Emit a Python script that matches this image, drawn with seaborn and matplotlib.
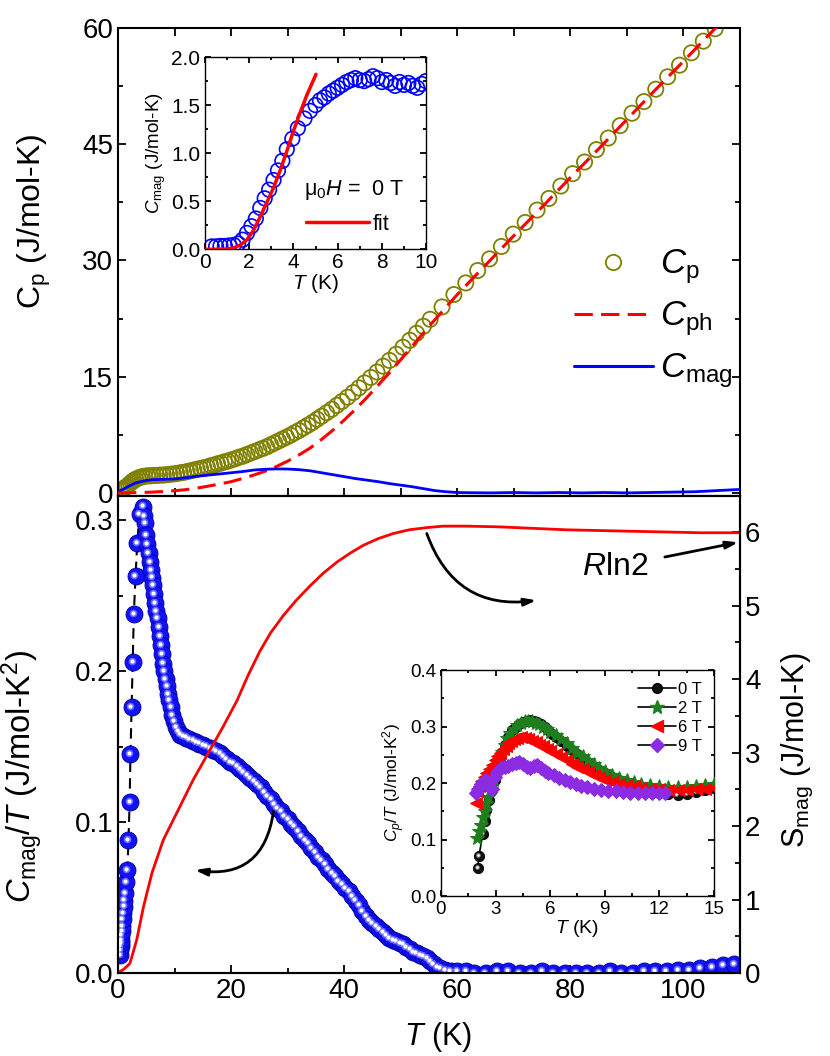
import matplotlib
matplotlib.use('Agg')
import matplotlib.pyplot as plt
import matplotlib.transforms as mtransforms
from matplotlib.lines import Line2D
from matplotlib.ticker import MultipleLocator, FormatStrFormatter
import seaborn as sns

# ---------------- data ----------------
# top panel: Cp, Cph, Cmag vs T
cp_T = [0.4, 0.7, 1.0, 1.3, 1.6, 1.9, 2.2, 2.5, 2.8, 3.1, 3.5, 3.9, 4.3, 4.7, 5.2, 5.7,
        6.2, 6.8, 7.4, 8.0, 8.6, 9.2, 9.8, 10.4, 11.0, 11.6, 12.2, 12.8, 13.4, 14.0, 14.6,
        15.2, 15.8, 16.4, 17.0, 17.6, 18.2, 18.8, 19.4, 20.0, 20.7, 21.4, 22.1, 22.8, 23.5,
        24.2, 24.9, 25.6, 26.3, 27.0, 27.7, 28.4, 29.1, 29.8, 30.5, 31.2, 32.0, 32.8, 33.6,
        34.4, 35.2, 36.0, 36.9, 37.8, 38.7, 39.6, 40.6, 41.6, 42.6, 43.6, 44.7, 45.8, 46.9,
        48.0, 49.2, 50.4, 51.6, 52.8, 54.0, 55.2, 57.3, 59.4, 61.5, 63.6, 65.7, 67.8, 69.9,
        72.0, 74.1, 76.2, 78.3, 80.4, 82.5, 84.6, 86.7, 88.8, 90.9, 93.0, 95.1, 97.2, 99.3,
        101.4, 103.5, 105.6, 107.7, 109.8]
cp_val = [0.35, 0.45, 0.55, 0.7, 0.85, 1.05, 1.25, 1.45, 1.6, 1.75, 1.9, 2.0, 2.1, 2.15, 2.2, 2.2,
          2.25, 2.25, 2.3, 2.3, 2.35, 2.4, 2.45, 2.5, 2.6, 2.65, 2.75, 2.85, 2.95, 3.05, 3.15,
          3.25, 3.35, 3.5, 3.6, 3.75, 3.85, 4.0, 4.1, 4.25, 4.4, 4.6, 4.75, 4.95, 5.15,
          5.35, 5.55, 5.75, 5.95, 6.2, 6.45, 6.7, 6.95, 7.2, 7.45, 7.75, 8.05, 8.4, 8.75,
          9.1, 9.5, 9.9, 10.35, 10.8, 11.3, 11.8, 12.35, 12.95, 13.55, 14.2, 14.9, 15.6, 16.35,
          17.1, 17.9, 18.8, 19.7, 20.6, 21.5, 22.4, 24.0, 25.6, 27.1, 28.7, 30.2, 31.8, 33.4,
          34.9, 36.5, 38.0, 39.6, 41.2, 42.7, 44.3, 45.8, 47.4, 49.0, 50.5, 52.1, 53.7, 55.2,
          56.8, 58.3, 59.9, 61.5, 63.0]

cph_T = [0, 2, 4, 6, 8, 10, 12, 14, 16, 18, 20, 22, 24, 26, 28, 30, 32, 34, 36, 38, 40,
         42, 44, 46, 48, 50, 52, 55, 60, 65, 70, 75, 80, 85, 90, 95, 100, 105, 110]
cph_val = [0, 0.02, 0.05, 0.1, 0.18, 0.28, 0.42, 0.62, 0.88, 1.15, 1.45, 1.85, 2.3, 2.8,
           3.4, 4.1, 4.9, 5.8, 6.9, 8.1, 9.4, 10.8, 12.3, 13.9, 15.5, 17.2, 18.9, 21.5,
           25.6, 29.4, 33.2, 36.9, 40.7, 44.4, 48.2, 52.0, 55.7, 59.5, 63.2]

cmag_T = [0.4, 1, 2, 3, 4, 5, 6, 8, 10, 12, 14, 16, 18, 20, 22, 24, 26, 28, 30, 32, 34, 36,
          38, 40, 42, 44, 46, 48, 50, 52, 54, 56, 58, 60, 63, 66, 70, 74, 78, 82, 86, 90,
          94, 98, 102, 106, 110]
cmag_val = [0.3, 0.5, 0.9, 1.25, 1.45, 1.6, 1.7, 1.75, 1.8, 1.95, 2.15, 2.3, 2.45, 2.6, 2.75,
            2.95, 3.05, 3.1, 3.08, 3.0, 2.85, 2.6, 2.35, 2.1, 1.85, 1.65, 1.45, 1.2, 1.0,
            0.8, 0.55, 0.3, 0.15, 0.05, 0.02, 0.0, 0.05, 0.0, 0.05, 0.0, 0.05, 0.0, 0.05,
            0.1, 0.15, 0.3, 0.45]

# top inset: Cmag (0 - 10 K) and fit
ins_T = [0.3, 0.5, 0.7, 0.9, 1.1, 1.3, 1.5, 1.7, 1.9, 2.1, 2.3, 2.5, 2.7, 2.9, 3.1, 3.3, 3.5,
         3.7, 3.95, 4.2, 4.5, 4.75, 5.0, 5.2, 5.4, 5.6, 5.8, 6.0, 6.2, 6.4, 6.6, 6.8, 7.0,
         7.2, 7.4, 7.6, 7.8, 8.0, 8.2, 8.4, 8.6, 8.8, 9.0, 9.2, 9.4, 9.6, 9.8, 10.0]
ins_val = [0.03, 0.03, 0.035, 0.035, 0.04, 0.045, 0.06, 0.1, 0.17, 0.24, 0.32, 0.43, 0.53,
           0.62, 0.72, 0.82, 0.92, 1.04, 1.15, 1.26, 1.36, 1.44, 1.5, 1.55, 1.58, 1.62,
           1.65, 1.68, 1.71, 1.74, 1.76, 1.78, 1.76, 1.75, 1.77, 1.80, 1.78, 1.74, 1.76,
           1.73, 1.70, 1.74, 1.71, 1.73, 1.70, 1.68, 1.72, 1.75]
fit_T = [0, 0.5, 1.0, 1.3, 1.6, 1.9, 2.2, 2.5, 2.8, 3.1, 3.4, 3.7, 4.0, 4.3, 4.6, 5.02]
fit_val = [0, 0, 0.004, 0.015, 0.045, 0.1, 0.2, 0.34, 0.49, 0.64, 0.82, 1.02, 1.23, 1.42,
           1.6, 1.82]

# bottom panel: Cmag/T (left axis) and Smag (right axis)
ct_T = [0.35, 0.4, 0.45, 0.5, 0.55, 0.6, 0.65, 0.7, 0.8, 0.9, 1.0, 1.1, 1.25, 1.45, 1.65,
        1.85, 2.05, 2.2, 2.4, 2.6, 2.8, 3.1, 3.4, 3.8, 4.4, 4.6, 4.8, 5.0, 5.2, 5.4, 5.6,
        5.8, 6.0, 6.2, 6.4, 6.6, 6.8, 7.0, 7.2, 7.4, 7.6, 7.8, 8.0, 8.2, 8.4, 8.6, 8.8,
        9.0, 9.3, 9.6, 9.9, 10.2, 10.6, 11.0, 11.5, 12.0, 12.6, 13.2, 13.8, 14.4, 15.0,
        15.6, 16.2, 16.8, 17.4, 18.0, 18.6, 19.2, 19.8, 20.4, 21.0, 21.6, 22.2, 22.8,
        23.4, 24.0, 24.6, 25.2, 25.8, 26.4, 27.0, 27.6, 28.2, 28.8, 29.4, 30.0, 30.6,
        31.2, 31.8, 32.4, 33.0, 33.6, 34.2, 34.8, 35.4, 36.0, 36.6, 37.2, 37.8, 38.4,
        39.0, 39.6, 40.2, 40.8, 41.4, 42.0, 42.6, 43.2, 43.8, 44.4, 45.0, 45.6, 46.2,
        46.8, 47.4, 48.0, 48.6, 49.2, 49.8, 50.4, 51.0, 51.6, 52.2, 52.8, 53.4, 54.0,
        54.6, 55.2, 55.8, 56.4, 57.0, 57.8, 58.8, 60.0, 61.5, 63, 65, 67, 69, 71, 73, 75,
        77, 79, 81, 83, 85, 87, 89, 91, 93, 95, 97, 99, 101, 103, 105, 107, 109]
ct_val = [0.012, 0.015, 0.018, 0.020, 0.022, 0.025, 0.028, 0.031, 0.036, 0.040, 0.044,
          0.048, 0.053, 0.060, 0.068, 0.088, 0.113, 0.145, 0.176, 0.206, 0.238, 0.263,
          0.285, 0.304, 0.309, 0.303, 0.298, 0.290, 0.284, 0.278, 0.272, 0.267, 0.262,
          0.257, 0.251, 0.245, 0.240, 0.235, 0.229, 0.223, 0.217, 0.211, 0.205, 0.200,
          0.195, 0.190, 0.185, 0.181, 0.176, 0.171, 0.167, 0.163, 0.160, 0.158, 0.157,
          0.156, 0.155, 0.154, 0.153, 0.152, 0.151, 0.150, 0.149, 0.148, 0.147, 0.146,
          0.144, 0.142, 0.140, 0.139, 0.137, 0.135, 0.133, 0.131, 0.129, 0.127, 0.125,
          0.123, 0.120, 0.117, 0.115, 0.112, 0.109, 0.107, 0.104, 0.102, 0.099, 0.097,
          0.094, 0.091, 0.088, 0.086, 0.083, 0.080, 0.077, 0.075, 0.072, 0.069, 0.066,
          0.064, 0.061, 0.059, 0.056, 0.054, 0.051, 0.048, 0.045, 0.041, 0.038, 0.035,
          0.033, 0.031, 0.029, 0.027, 0.025, 0.023, 0.022, 0.021, 0.020, 0.019, 0.017,
          0.016, 0.014, 0.013, 0.012, 0.011, 0.010, 0.008, 0.006, 0.004, 0.003, 0.002,
          0.001, 0.001, 0.001, 0.000, 0.000, 0.001, 0.001, 0.000, 0.000, 0.001, 0.000,
          0.000, 0.000, 0.000, 0.000, 0.001, 0.000, 0.000, 0.001, 0.001, 0.001, 0.002,
          0.002, 0.003, 0.004, 0.005, 0.006]

s_T = [0, 0.35, 1.0, 2.1, 3.3, 4.5, 6.0, 8.0, 10.4, 13.3, 16.3, 18.5, 21.0, 23.0, 25.1,
       27.0, 29.2, 31.5, 34.0, 36.3, 38.7, 41.0, 43.4, 46.0, 48.7, 51.5, 54.6, 57.5,
       61.7, 67.5, 73.4, 79.3, 85.2, 91.0, 97.0, 103.0, 108.8, 110]
s_val = [0, 0.02, 0.05, 0.13, 0.45, 0.9, 1.36, 1.81, 2.18, 2.63, 3.04, 3.34, 3.70, 4.05,
         4.38, 4.63, 4.86, 5.07, 5.27, 5.44, 5.59, 5.71, 5.82, 5.91, 5.98, 6.03, 6.06,
         6.08, 6.08, 6.07, 6.05, 6.03, 6.02, 6.01, 6.0, 5.99, 5.99, 5.99]

# bottom inset: Cp/T in field
f0_T = [2.02, 2.08, 2.3, 2.4, 2.5, 2.65, 2.8, 2.95, 3.1, 3.3, 3.5, 3.7, 3.9, 4.1, 4.3, 4.5,
        4.7, 4.9, 5.1, 5.3, 5.5, 5.7, 5.9, 6.1, 6.3, 6.6, 6.9, 7.2, 7.5, 7.8, 8.1, 8.4,
        8.7, 9.0, 9.4, 9.8, 10.2, 10.6, 11.0, 11.5, 12.0, 12.5, 13.0, 13.5, 14.0, 14.5, 15.0]
f0_val = [0.050, 0.070, 0.110, 0.132, 0.152, 0.170, 0.188, 0.205, 0.225, 0.248, 0.268,
          0.282, 0.293, 0.300, 0.305, 0.308, 0.310, 0.311, 0.310, 0.308, 0.304, 0.299,
          0.293, 0.287, 0.281, 0.274, 0.266, 0.258, 0.251, 0.243, 0.236, 0.229, 0.223,
          0.217, 0.211, 0.205, 0.200, 0.196, 0.193, 0.188, 0.182, 0.180, 0.179, 0.181,
          0.184, 0.188, 0.192]
f2_T = [2.0, 2.1, 2.2, 2.3, 2.4, 2.5, 2.6, 2.75, 2.9, 3.05, 3.2, 3.35, 3.5, 3.65, 3.8, 4.0,
        4.2, 4.4, 4.6, 4.8, 5.0, 5.2, 5.4, 5.6, 5.8, 6.0, 6.3, 6.6, 6.9, 7.2, 7.5, 7.8,
        8.1, 8.4, 8.7, 9.0, 9.4, 9.8, 10.2, 10.6, 11.0, 11.5, 12.0, 12.5, 13.0, 13.5,
        14.0, 14.5, 15.0]
f2_val = [0.103, 0.115, 0.125, 0.140, 0.150, 0.165, 0.175, 0.190, 0.205, 0.222, 0.240,
          0.255, 0.268, 0.280, 0.288, 0.296, 0.302, 0.306, 0.309, 0.310, 0.309, 0.307,
          0.304, 0.300, 0.296, 0.291, 0.285, 0.278, 0.270, 0.262, 0.254, 0.247, 0.240,
          0.233, 0.227, 0.221, 0.215, 0.209, 0.205, 0.201, 0.198, 0.196, 0.194, 0.193,
          0.193, 0.193, 0.194, 0.196, 0.198]
f6_T = [1.92, 2.0, 2.1, 2.2, 2.35, 2.5, 2.65, 2.8, 2.95, 3.1, 3.25, 3.4, 3.55, 3.7, 3.85,
        4.0, 4.2, 4.4, 4.6, 4.8, 5.0, 5.2, 5.4, 5.6, 5.8, 6.0, 6.3, 6.6, 6.9, 7.2, 7.5,
        7.8, 8.1, 8.4, 8.7, 9.0, 9.4, 9.8, 10.2, 10.6, 11.0, 11.5, 12.0, 12.5, 13.0,
        13.5, 14.0, 14.5, 15.0]
f6_val = [0.165, 0.185, 0.195, 0.203, 0.211, 0.218, 0.225, 0.232, 0.240, 0.247, 0.254,
          0.261, 0.266, 0.271, 0.275, 0.278, 0.280, 0.281, 0.280, 0.278, 0.275, 0.272,
          0.268, 0.265, 0.261, 0.257, 0.252, 0.246, 0.240, 0.234, 0.229, 0.224, 0.219,
          0.214, 0.210, 0.206, 0.202, 0.199, 0.196, 0.194, 0.192, 0.190, 0.189, 0.188,
          0.188, 0.188, 0.189, 0.190, 0.191]
f9_T = [1.92, 2.05, 2.2, 2.35, 2.5, 2.65, 2.8, 2.95, 3.1, 3.3, 3.5, 3.7, 3.9, 4.1, 4.3, 4.5,
        4.7, 4.9, 5.1, 5.3, 5.5, 5.7, 5.9, 6.2, 6.5, 6.8, 7.1, 7.4, 7.7, 8.0, 8.4, 8.8,
        9.2, 9.6, 10.0, 10.4, 10.8, 11.2, 11.6, 12.0, 12.3]
f9_val = [0.182, 0.190, 0.198, 0.203, 0.205, 0.193, 0.190, 0.210, 0.220, 0.226, 0.229,
          0.231, 0.233, 0.236, 0.238, 0.233, 0.228, 0.226, 0.230, 0.232, 0.227, 0.222,
          0.218, 0.214, 0.209, 0.205, 0.201, 0.198, 0.195, 0.193, 0.190, 0.188, 0.186,
          0.185, 0.184, 0.183, 0.182, 0.182, 0.182, 0.183, 0.183]

OLIVE = '#808000'
GREEN = '#1f7f1f'
PURPLE = '#8b2be2'

# ---------------- style ----------------
sns.set_style('ticks')
plt.rcParams['font.family'] = ['Liberation Sans', 'DejaVu Sans']
plt.rcParams['mathtext.fontset'] = 'custom'
plt.rcParams['mathtext.rm'] = 'Liberation Sans'
plt.rcParams['mathtext.it'] = 'Liberation Sans:italic'
plt.rcParams['mathtext.bf'] = 'Liberation Sans:bold'
plt.rcParams['axes.linewidth'] = 1.5
for key in ['text.color', 'axes.labelcolor', 'xtick.color', 'ytick.color', 'axes.edgecolor']:
    plt.rcParams[key] = 'black'


def spheres(ax, x, y, size, base, mid, edge, z=3):
    sns.scatterplot(x=x, y=y, ax=ax, s=size, color=base, edgecolor=edge,
                    linewidth=0.6, zorder=z, legend=False)
    off = mtransforms.offset_copy(ax.transData, fig=ax.figure, x=-0.8, y=0.8, units='points')
    ax.scatter(x, y, s=size * 0.2, color=mid, linewidths=0, transform=off, zorder=z + 0.1)
    ax.scatter(x, y, s=size * 0.06, color='white', linewidths=0, transform=off, zorder=z + 0.2)


def ticks(ax, size, major=6, minor=3.5, **kw):
    ax.tick_params(which='both', direction='in', width=1.3, labelsize=size, **kw)
    ax.tick_params(which='major', length=major)
    ax.tick_params(which='minor', length=minor)


fig = plt.figure(figsize=(8.3, 10.56), dpi=100)

# ---------------- top panel ----------------
ax_t = fig.add_axes([0.1422, 0.5303, 0.7494, 0.4432])
sns.scatterplot(x=cp_T, y=cp_val, ax=ax_t, marker='o', s=120, facecolor='none',
                edgecolor=OLIVE, linewidth=1.3, zorder=2, legend=False)
sns.lineplot(x=cph_T, y=cph_val, ax=ax_t, color='red', lw=2.2, dashes=(6, 2.7),
             estimator=None, sort=False, zorder=3)
sns.lineplot(x=cmag_T, y=cmag_val, ax=ax_t, color='blue', lw=2.0,
             estimator=None, sort=False, zorder=4)
ax_t.set_xlim(0, 110)
ax_t.set_ylim(-0.4, 60)
ax_t.xaxis.set_major_locator(MultipleLocator(10))
ax_t.yaxis.set_major_locator(MultipleLocator(15))
ax_t.yaxis.set_minor_locator(MultipleLocator(7.5))
ticks(ax_t, 20, top=True, right=True, labelbottom=False)
ax_t.set_ylabel(r'C$_\mathrm{p}$ (J/mol-K)', fontsize=23)
ax_t.yaxis.set_label_coords(-0.105, 0.588)
ax_t.set_xlabel('')

leg_handles = [
    Line2D([], [], marker='o', ls='none', mfc='none', mec=OLIVE, mew=1.3, ms=11),
    Line2D([], [], color='red', lw=2.2, dashes=(6, 2.7)),
    Line2D([], [], color='blue', lw=2.2),
]
ax_t.legend(leg_handles, [r'$C_\mathrm{p}$', r'$C_\mathrm{ph}$', r'$C_\mathrm{mag}$'],
            frameon=False, fontsize=25, loc='center left', bbox_to_anchor=(0.71, 0.378),
            handlelength=2.3, handletextpad=0.2, labelspacing=0.38, borderaxespad=0)

# top inset
ax_i = fig.add_axes([0.2470, 0.7639, 0.2663, 0.1821])
sns.scatterplot(x=ins_T, y=ins_val, ax=ax_i, marker='o', s=110, facecolor='none',
                edgecolor='blue', linewidth=1.2, zorder=2, legend=False)
sns.lineplot(x=fit_T, y=fit_val, ax=ax_i, color='red', lw=2.5, estimator=None,
             sort=False, zorder=3)
ax_i.set_xlim(0, 10)
ax_i.set_ylim(0, 2.0)
ax_i.xaxis.set_major_locator(MultipleLocator(2))
ax_i.xaxis.set_minor_locator(MultipleLocator(1))
ax_i.yaxis.set_major_locator(MultipleLocator(0.5))
ax_i.yaxis.set_minor_locator(MultipleLocator(0.25))
ax_i.yaxis.set_major_formatter(FormatStrFormatter('%.1f'))
ticks(ax_i, 15, major=4.5, minor=2.5, top=True, right=True)
ax_i.tick_params(axis='x', pad=3)
for sp in ax_i.spines.values():
    sp.set_linewidth(1.0)
ax_i.set_xlabel(r'$T$ (K)', fontsize=15, labelpad=0)
ax_i.set_ylabel(r'$C_\mathrm{mag}$ (J/mol-K)', fontsize=13.5, labelpad=2)
ax_i.text(0.45, 0.31, r'$\mathrm{\mu}_0H$ =  0 T', transform=ax_i.transAxes,
          fontsize=15.5, ha='left', va='center')
ax_i.legend([Line2D([], [], color='red', lw=2.5)], ['fit'], frameon=False, fontsize=15.5,
            loc='center left', bbox_to_anchor=(0.42, 0.13), handlelength=2.9,
            handletextpad=0.2, borderaxespad=0)

# ---------------- bottom panel ----------------
ax_b = fig.add_axes([0.1422, 0.0786, 0.7494, 0.4517])
sns.lineplot(x=ct_T, y=ct_val, ax=ax_b, color='black', lw=1.5, dashes=(5, 3),
             estimator=None, sort=False, zorder=2)
spheres(ax_b, ct_T, ct_val, 150, '#1212f5', '#6a6aff', '#0000a8')
ax_b.set_xlim(0, 110)
ax_b.set_ylim(0, 0.316)
ax_b.xaxis.set_major_locator(MultipleLocator(20))
ax_b.xaxis.set_minor_locator(MultipleLocator(10))
ax_b.yaxis.set_major_locator(MultipleLocator(0.1))
ax_b.yaxis.set_minor_locator(MultipleLocator(0.05))
ax_b.yaxis.set_major_formatter(FormatStrFormatter('%.1f'))
ticks(ax_b, 20, top=False, right=False)
ax_b.set_xlabel(r'$T$ (K)', fontsize=22)
ax_b.xaxis.set_label_coords(0.515, -0.098)
ax_b.set_ylabel(r'$C_\mathrm{mag}$/$T$ (J/mol-K$^2$)', fontsize=23.5)
ax_b.yaxis.set_label_coords(-0.117, 0.413)

ax_r = ax_b.twinx()
sns.lineplot(x=s_T, y=s_val, ax=ax_r, color='red', lw=2.0, estimator=None, sort=False)
ax_r.set_ylim(0, 6.49)
ax_r.yaxis.set_major_locator(MultipleLocator(1))
ax_r.yaxis.set_minor_locator(MultipleLocator(0.5))
ticks(ax_r, 20)
ax_r.set_ylabel(r'S$_\mathrm{mag}$ (J/mol-K)', fontsize=22)
ax_r.yaxis.set_label_coords(1.064, 0.467)

arrow = dict(arrowstyle='-|>,head_length=0.7,head_width=0.22', color='black', lw=2.0,
             shrinkA=0, shrinkB=0)
ax_r.annotate('', xy=(13.6, 1.40), xytext=(27.5, 2.20),
              arrowprops=dict(arrow, connectionstyle='arc3,rad=-0.5'))
ax_r.annotate('', xy=(74.0, 5.07), xytext=(54.6, 5.98),
              arrowprops=dict(arrow, connectionstyle='arc3,rad=0.4'))
ax_r.annotate('', xy=(109.7, 5.86), xytext=(96.7, 5.66), annotation_clip=False,
              arrowprops=dict(arrow))
ax_r.text(87.9, 5.53, r'$R$ln2', fontsize=23, ha='center', va='center')

# bottom inset
ax_j = fig.add_axes([0.5313, 0.1515, 0.3289, 0.2140])
ax_j.set_zorder(5)
sns.lineplot(x=f0_T, y=f0_val, ax=ax_j, color='black', lw=1.2, estimator=None, sort=False)
spheres(ax_j, f0_T, f0_val, 55, '#111111', '#888888', 'black')
sns.lineplot(x=f2_T, y=f2_val, ax=ax_j, color=GREEN, lw=0.8, marker='*', ms=10, mec=GREEN,
             estimator=None, sort=False, zorder=6)
sns.lineplot(x=f6_T, y=f6_val, ax=ax_j, color='red', lw=0.8, marker='<', ms=8.5, mec='red',
             estimator=None, sort=False, zorder=7)
sns.lineplot(x=f9_T, y=f9_val, ax=ax_j, color=PURPLE, lw=0.8, marker='D', ms=7, mec=PURPLE,
             estimator=None, sort=False, zorder=8)
ax_j.set_xlim(0, 15)
ax_j.set_ylim(0, 0.4)
ax_j.xaxis.set_major_locator(MultipleLocator(3))
ax_j.xaxis.set_minor_locator(MultipleLocator(1.5))
ax_j.yaxis.set_major_locator(MultipleLocator(0.1))
ax_j.yaxis.set_minor_locator(MultipleLocator(0.05))
ax_j.yaxis.set_major_formatter(FormatStrFormatter('%.1f'))
ticks(ax_j, 13.5, major=4, minor=2.2, top=True, right=True)
for sp in ax_j.spines.values():
    sp.set_linewidth(1.0)
ax_j.set_xlabel(r'$T$ (K)', fontsize=14, labelpad=0)
ax_j.set_ylabel(r'$C_p$/$T$ (J/mol-K$^2$)', fontsize=12.5, labelpad=2)

field_handles = [
    Line2D([], [], color='black', lw=1.2, marker='o', mfc='#111111', mec='black', ms=7),
    Line2D([], [], color='black', lw=1.2, marker='*', mfc=GREEN, mec=GREEN, ms=10),
    Line2D([], [], color='black', lw=1.2, marker='<', mfc='red', mec='red', ms=8.5),
    Line2D([], [], color='black', lw=1.2, marker='D', mfc=PURPLE, mec=PURPLE, ms=7),
]
ax_j.legend(field_handles, ['0 T', '2 T', '6 T', '9 T'], frameon=False, fontsize=12,
            loc='upper right', handlelength=2.3, handletextpad=0.15, labelspacing=0.25,
            borderaxespad=0.3)

fig.savefig('out.png', dpi=100)
